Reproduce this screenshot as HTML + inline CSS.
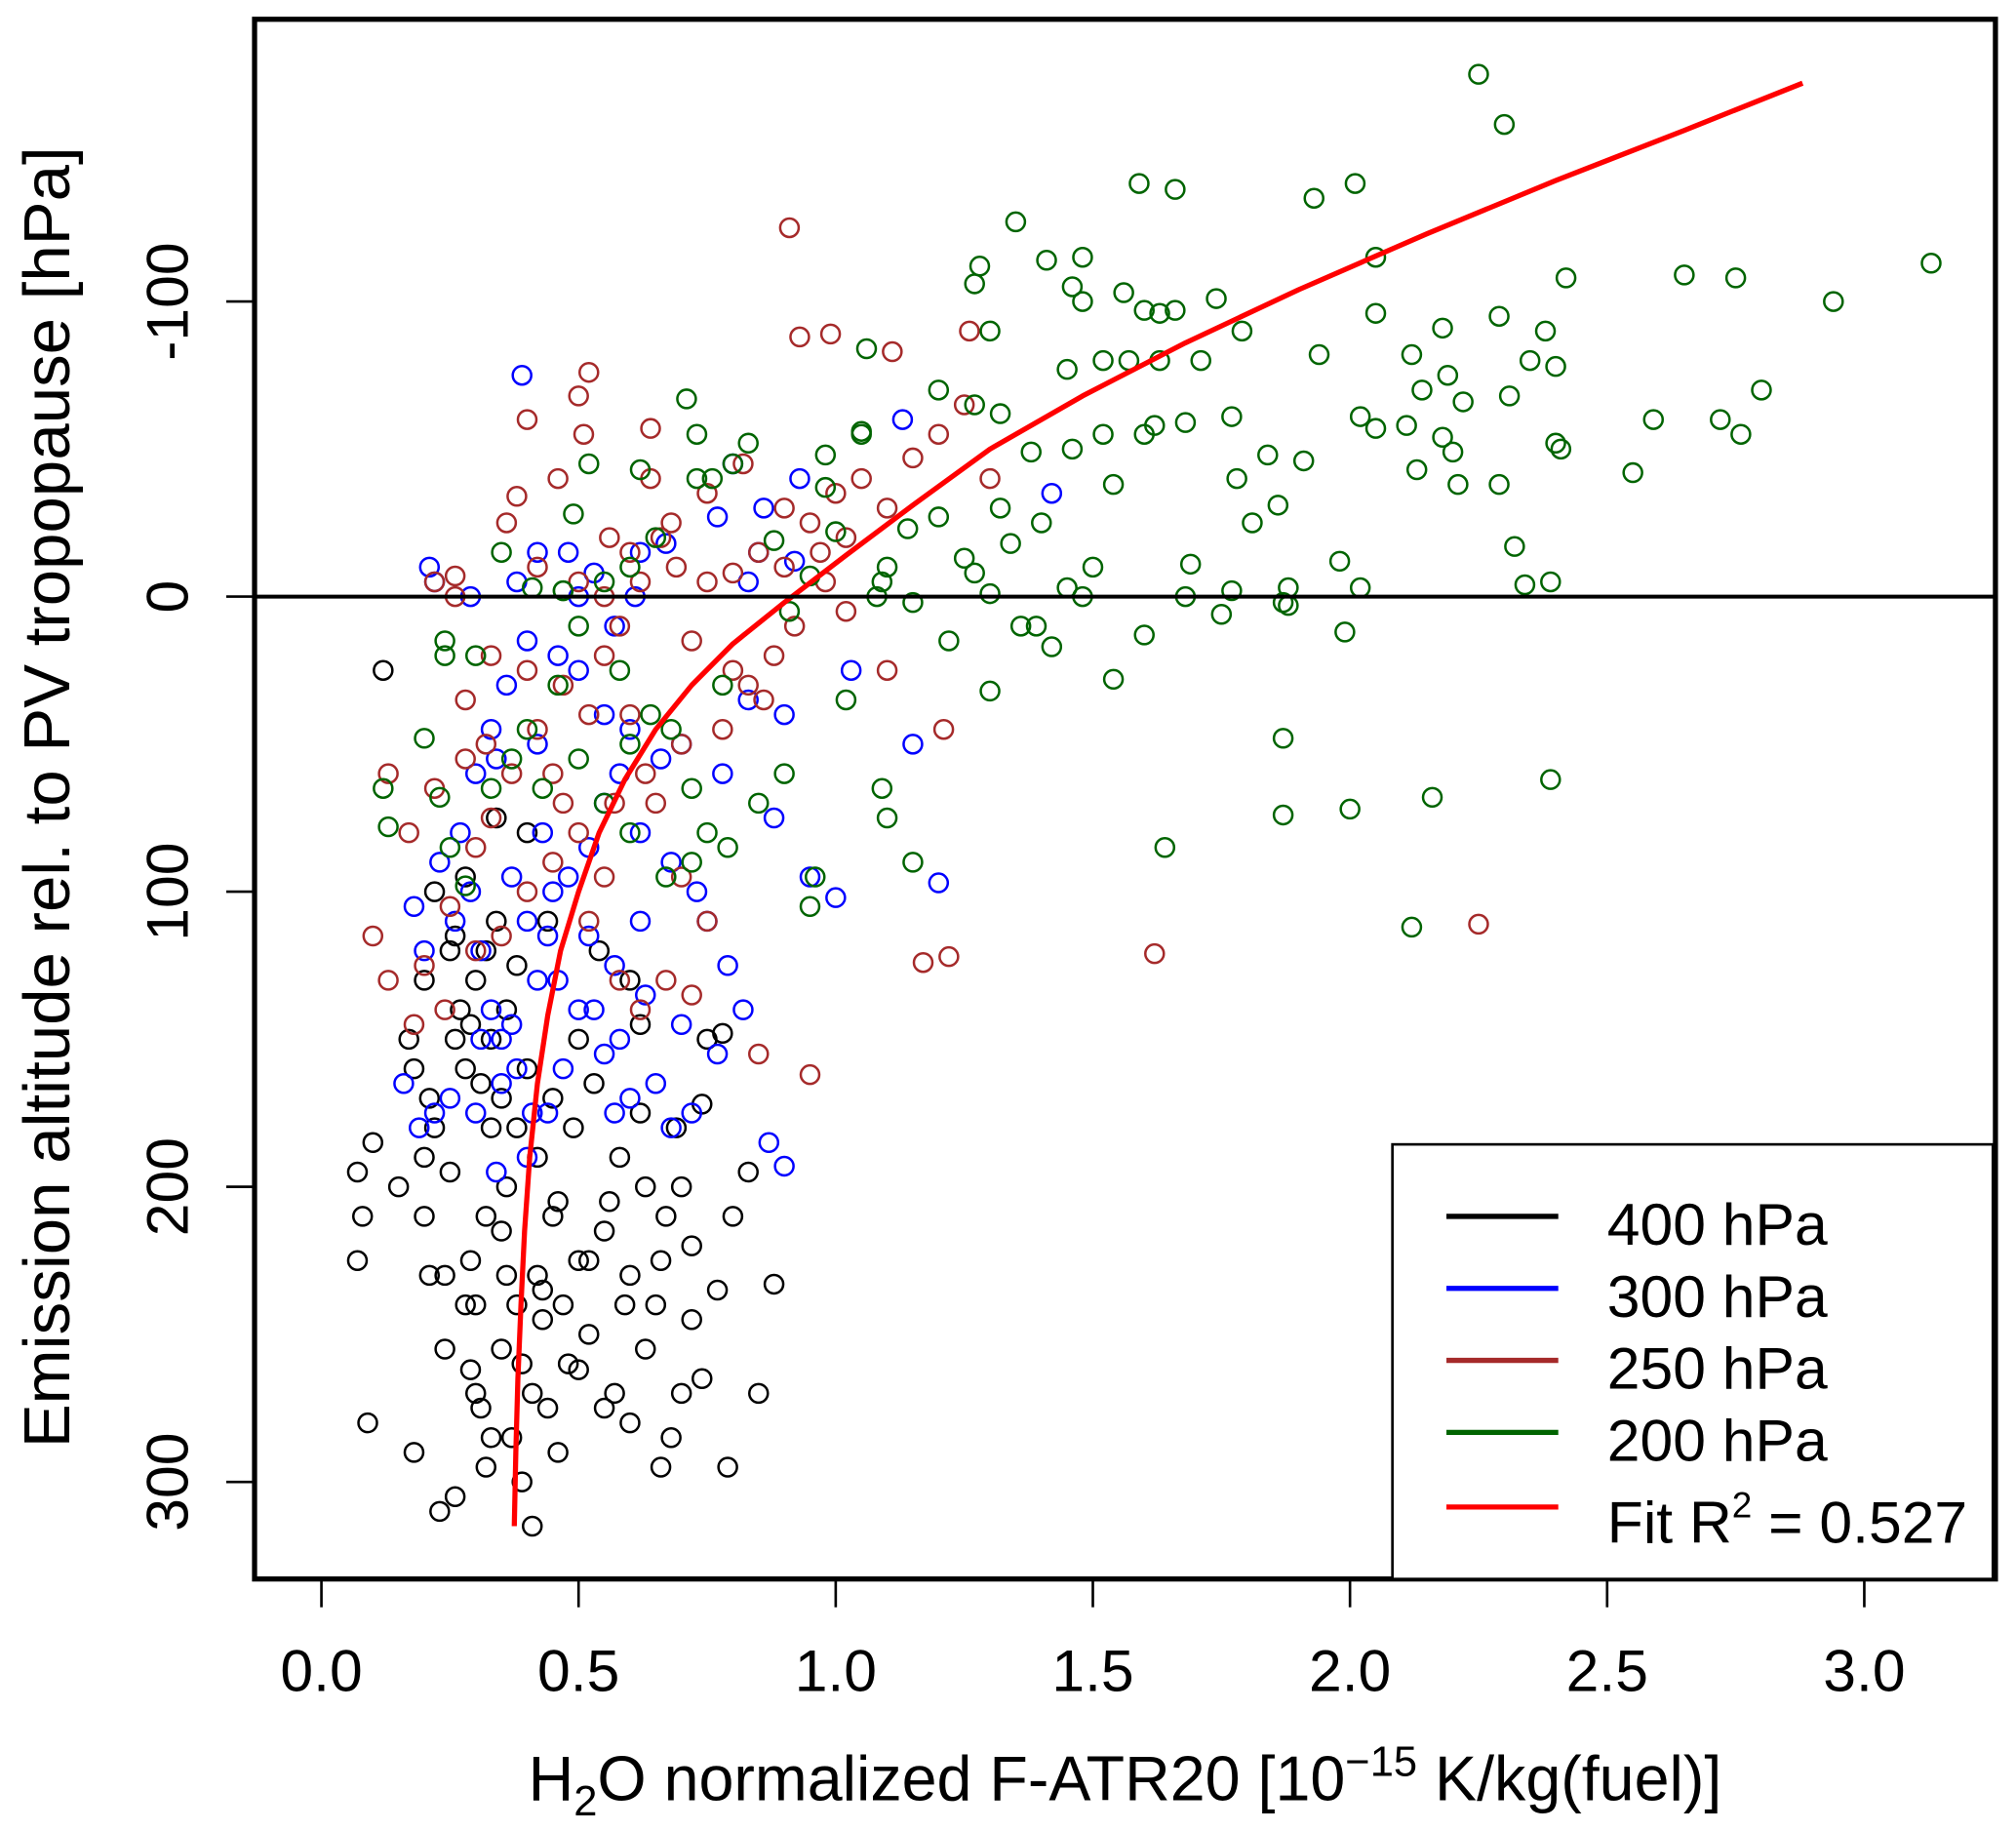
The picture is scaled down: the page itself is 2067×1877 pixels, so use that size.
<!DOCTYPE html>
<html><head><meta charset="utf-8"><style>
html,body{margin:0;padding:0;background:#fff}
svg{display:block}
text{font-family:"Liberation Sans",Arial,sans-serif}
</style></head><body>
<svg id="chart" width="2067" height="1877" viewBox="0 0 1568 1424" preserveAspectRatio="none" xmlns="http://www.w3.org/2000/svg">
<g id="points"></g>
<g id="fit"></g>
<line x1="198" x2="1552" y1="464" y2="464" stroke="#000" stroke-width="3"/>
<rect x="198" y="15" width="1354" height="1213" fill="none" stroke="#000" stroke-width="4"/>
<g id="xaxis"></g>
<g id="yaxis"></g>
<text transform="translate(54,620) rotate(-90)" text-anchor="middle" font-size="51">Emission altitude rel. to PV tropopause [hPa]</text>
<text x="875" y="1400" text-anchor="middle" font-size="49">H<tspan font-size="33" dy="12">2</tspan><tspan dy="-12">O normalized F-ATR20 [10</tspan><tspan font-size="33" dy="-19">−15</tspan><tspan dy="19"> K/kg(fuel)]</tspan></text>
<g>
<rect x="1083" y="890" width="467" height="338" fill="#fff" stroke="#000" stroke-width="2"/>
<line x1="1125" x2="1212" y1="946" y2="946" stroke="#000" stroke-width="4"/>
<text x="1250" y="968" font-size="46">400 hPa</text>
<line x1="1125" x2="1212" y1="1002" y2="1002" stroke="#0000ff" stroke-width="4"/>
<text x="1250" y="1024" font-size="46">300 hPa</text>
<line x1="1125" x2="1212" y1="1058" y2="1058" stroke="#a52a2a" stroke-width="4"/>
<text x="1250" y="1080" font-size="46">250 hPa</text>
<line x1="1125" x2="1212" y1="1114" y2="1114" stroke="#006400" stroke-width="4"/>
<text x="1250" y="1136" font-size="46">200 hPa</text>
<line x1="1125" x2="1212" y1="1172" y2="1172" stroke="#ff0000" stroke-width="4"/>
<text x="1250" y="1200" font-size="46">Fit R<tspan font-size="28" dy="-20">2</tspan><tspan dy="20"> = 0.527</tspan></text>
</g>
</svg>
<script>
const xTicks=[0.0,0.5,1.0,1.5,2.0,2.5,3.0];
const xTickLabels=["0.0","0.5","1.0","1.5","2.0","2.5","3.0"];
const yTicks=[-100,0,100,200,300];
const yTickLabels=["-100","0","100","200","300"];
const black400=[[0.12,25],[0.07,195],[0.08,210],[0.07,225],[0.1,185],[0.09,280],[0.17,150],[0.18,160],[0.15,200],[0.2,190],[0.22,180],[0.2,210],[0.21,230],[0.24,230],[0.24,255],[0.23,310],[0.26,305],[0.18,290],[0.28,240],[0.3,270],[0.3,240],[0.32,295],[0.32,210],[0.35,215],[0.35,170],[0.33,150],[0.36,140],[0.38,125],[0.3,130],[0.27,140],[0.25,120],[0.22,100],[0.26,115],[0.34,110],[0.4,160],[0.42,190],[0.45,210],[0.42,230],[0.39,260],[0.41,270],[0.44,275],[0.41,315],[0.47,240],[0.5,225],[0.46,290],[0.48,260],[0.52,250],[0.55,215],[0.57,270],[0.6,280],[0.58,190],[0.62,175],[0.6,230],[0.65,240],[0.63,255],[0.66,295],[0.68,285],[0.7,270],[0.72,245],[0.74,265],[0.67,210],[0.7,200],[0.75,150],[0.78,148],[0.8,210],[0.79,295],[0.85,270],[0.88,233],[0.83,195],[0.74,172],[0.69,180],[0.5,150],[0.53,165],[0.45,170],[0.38,180],[0.36,200],[0.29,225],[0.25,195],[0.21,170],[0.28,160],[0.31,165],[0.33,180],[0.35,255],[0.37,285],[0.39,300],[0.43,235],[0.46,205],[0.49,180],[0.56,205],[0.59,240],[0.55,275],[0.54,120],[0.6,130],[0.62,145],[0.44,110],[0.4,80],[0.34,75],[0.28,95],[0.2,130],[0.31,275],[0.33,285],[0.29,262],[0.43,245],[0.5,262],[0.52,225],[0.63,200],[0.66,225],[0.72,220],[0.77,235],[0.36,230],[0.38,240],[0.26,150],[0.29,145],[0.32,120]];
const blue300=[[0.39,-75],[0.21,-10],[0.22,-5],[0.29,0],[0.38,-5],[0.42,-15],[0.48,-15],[0.53,-8],[0.62,-15],[0.67,-18],[0.61,0],[0.36,30],[0.33,45],[0.42,50],[0.46,20],[0.5,25],[0.55,40],[0.6,45],[0.57,10],[0.66,55],[0.7,50],[0.78,60],[0.83,35],[0.88,75],[0.93,-40],[0.86,-30],[0.8,-45],[0.77,-27],[0.85,-15],[0.92,-12],[0.83,-5],[1.03,25],[1.15,50],[1.2,97],[1.0,102],[0.95,95],[0.9,40],[0.73,100],[0.75,110],[0.79,125],[0.82,140],[0.77,155],[0.72,175],[0.68,180],[0.65,165],[0.6,170],[0.57,175],[0.55,155],[0.5,140],[0.47,160],[0.44,175],[0.4,190],[0.34,195],[0.3,175],[0.25,170],[0.22,175],[0.19,180],[0.16,165],[0.18,105],[0.2,120],[0.23,90],[0.26,110],[0.29,100],[0.31,120],[0.33,140],[0.35,150],[0.37,145],[0.42,130],[0.45,100],[0.48,95],[0.52,85],[0.55,70],[0.58,60],[0.62,80],[0.27,80],[0.3,60],[0.34,55],[0.37,95],[0.4,110],[0.43,80],[0.52,115],[0.57,125],[0.62,110],[0.68,90],[0.87,185],[0.9,193],[0.7,145],[0.63,135],[1.42,-35],[1.13,-60],[0.4,15],[0.5,0],[0.44,115],[0.38,160],[0.46,130],[0.53,140],[0.58,150],[0.31,150],[0.35,165],[0.41,175]];
const brown250=[[0.91,-125],[0.52,-76],[0.4,-60],[0.5,-68],[0.51,-55],[0.64,-57],[0.93,-88],[0.99,-89],[1.11,-83],[1.26,-90],[0.38,-34],[0.22,-5],[0.26,-7],[0.26,0],[0.33,20],[0.4,25],[0.5,-5],[0.55,0],[0.6,-15],[0.66,-20],[0.69,-10],[0.75,-5],[0.8,-8],[0.85,-15],[0.9,-10],[0.95,-25],[1.0,-35],[1.05,-40],[1.15,-47],[1.2,-55],[1.25,-65],[1.3,-40],[1.1,-30],[1.02,-20],[0.98,-5],[0.92,10],[0.88,20],[0.83,30],[0.78,45],[0.7,50],[0.63,60],[0.57,70],[0.5,80],[0.45,90],[0.4,100],[0.35,115],[0.3,120],[0.25,105],[0.2,125],[0.18,145],[0.13,130],[0.1,115],[0.13,60],[0.17,80],[0.22,65],[0.28,55],[0.33,75],[0.37,60],[0.42,45],[0.47,30],[0.55,20],[0.6,40],[0.65,70],[0.7,95],[0.75,110],[0.72,135],[0.67,130],[0.62,140],[0.58,130],[0.52,110],[0.55,95],[0.85,155],[0.95,162],[1.17,124],[1.22,122],[1.62,121],[2.25,111],[1.21,45],[1.1,25],[1.02,5],[0.97,-15],[0.9,-30],[0.82,-45],[0.75,-35],[0.68,-25],[0.64,-40],[0.56,-20],[0.46,-40],[0.42,-10],[0.36,-25],[0.32,50],[0.28,35],[0.45,60],[0.52,40],[0.58,10],[0.62,-5],[0.72,15],[0.8,25],[0.86,35],[0.24,140],[0.3,85],[0.47,70]];
const green200=[[2.25,-177],[2.3,-160],[1.59,-140],[1.66,-138],[2.01,-140],[1.93,-135],[1.35,-127],[1.28,-112],[1.27,-106],[1.41,-114],[1.48,-115],[1.46,-105],[1.48,-100],[1.56,-103],[1.6,-97],[1.63,-96],[1.66,-97],[1.74,-101],[1.3,-90],[1.52,-80],[1.45,-77],[1.57,-80],[1.63,-80],[1.71,-80],[1.79,-90],[1.06,-84],[1.2,-70],[1.27,-65],[1.32,-62],[1.38,-49],[1.46,-50],[1.52,-55],[1.6,-55],[1.62,-58],[1.68,-59],[1.77,-61],[1.84,-48],[1.91,-46],[1.86,-31],[1.81,-25],[1.78,-40],[1.94,-82],[2.05,-115],[2.05,-96],[2.12,-82],[2.18,-91],[2.19,-75],[2.22,-66],[2.14,-70],[2.11,-58],[2.05,-57],[2.02,-61],[2.18,-54],[2.2,-49],[2.21,-38],[2.29,-38],[2.31,-68],[2.35,-80],[2.38,-90],[2.4,-78],[2.4,-52],[2.41,-50],[2.42,-108],[2.29,-95],[2.13,-43],[2.65,-109],[2.75,-108],[2.72,-60],[2.76,-55],[2.8,-70],[2.59,-60],[2.55,-42],[2.94,-100],[3.13,-113],[2.32,-17],[2.34,-4],[2.39,-5],[1.98,-12],[2.02,-3],[1.99,12],[1.87,2],[1.88,-3],[1.88,3],[1.87,48],[1.87,74],[2.0,72],[2.16,68],[2.12,112],[2.39,62],[1.64,85],[1.68,0],[1.6,13],[1.54,28],[1.48,0],[1.45,-3],[1.42,17],[1.39,10],[1.36,10],[1.32,-30],[1.3,-1],[1.27,-8],[1.34,-18],[1.4,-25],[1.5,-10],[1.54,-38],[1.69,-11],[1.75,6],[1.77,-2],[1.2,-27],[1.14,-23],[1.1,-10],[1.08,0],[1.15,2],[1.25,-13],[1.05,-55],[1.0,-22],[1.09,-5],[0.98,-37],[0.88,-19],[0.95,-7],[0.91,5],[0.83,-52],[0.8,-45],[0.76,-40],[0.71,-67],[0.73,-55],[0.62,-43],[0.65,-20],[0.6,-10],[0.55,-5],[0.49,-28],[0.47,-2],[0.5,10],[0.41,-3],[0.35,-15],[0.3,20],[0.24,15],[0.24,20],[0.2,48],[0.23,68],[0.25,85],[0.12,65],[0.13,78],[0.28,98],[0.33,65],[0.37,55],[0.4,45],[0.43,65],[0.46,30],[0.5,55],[0.55,70],[0.6,50],[0.64,40],[0.68,45],[0.72,65],[0.75,80],[0.79,85],[0.85,70],[0.9,60],[0.96,95],[0.95,105],[1.09,65],[1.1,75],[1.15,90],[1.3,32],[1.22,15],[1.02,35],[0.72,90],[0.78,30],[0.6,80],[0.67,95],[0.58,25],[0.52,-45],[0.47,-2],[1.05,-56],[0.98,-48],[0.73,-40]];
const fitX=[0.375,0.378,0.382,0.388,0.395,0.405,0.42,0.44,0.465,0.50,0.54,0.59,0.65,0.72,0.80,0.90,1.02,1.15,1.30,1.48,1.68,1.90,2.15,2.40,2.65,2.88];
const fitY=[315,290,265,240,215,190,165,142,120,100,80,62,45,30,16,2,-14,-31,-50,-68,-86,-104,-123,-141,-158,-174];
const xs=v=>250+400*v;
const ys=v=>464+2.295*v;
const NS="http://www.w3.org/2000/svg";
function mk(tag,attrs,parent){const e=document.createElementNS(NS,tag);for(const k in attrs)e.setAttribute(k,attrs[k]);parent.appendChild(e);return e;}
const pts=document.getElementById('points');
const series=[[black400,'#000000','point-400'],[blue300,'#0000ff','point-300'],[brown250,'#a52a2a','point-250'],[green200,'#006400','point-200']];
series.forEach(s=>{s[0].forEach(p=>{const c=mk('circle',{cx:xs(p[0]),cy:ys(p[1]),r:7.2,fill:'none',stroke:s[1],'stroke-width':1.9},pts);

});});
const fg=document.getElementById('fit');
let d='';fitX.forEach((x,i)=>{d+=(i?'L':'M')+xs(x)+' '+ys(fitY[i]);});
const fp=mk('path',{d:d,fill:'none',stroke:'#ff0000','stroke-width':4,'stroke-linejoin':'round'},fg);


const xa=document.getElementById('xaxis');
xTicks.forEach((t,i)=>{const l=mk('line',{x1:xs(t),x2:xs(t),y1:1228,y2:1250,stroke:'#000','stroke-width':2},xa);


const tx=mk('text',{x:xs(t),y:1315,'text-anchor':'middle','font-size':46},xa);tx.textContent=xTickLabels[i];

});
const ya=document.getElementById('yaxis');
yTicks.forEach((t,i)=>{const l=mk('line',{x1:176,x2:198,y1:ys(t),y2:ys(t),stroke:'#000','stroke-width':2},ya);


const tx=mk('text',{transform:`translate(146,${ys(t)}) rotate(-90)`,'text-anchor':'middle','font-size':46},ya);tx.textContent=yTickLabels[i];

});
</script>
</body></html>
